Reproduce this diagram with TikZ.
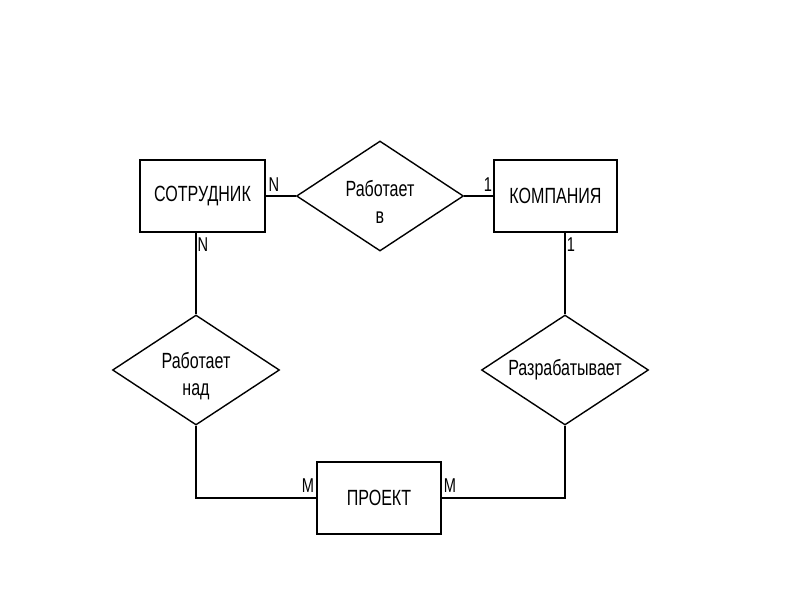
\documentclass[tikz,border=0pt]{standalone}
\usepackage{fontspec}
\setmainfont[FakeStretch=0.73]{Liberation Sans}
\usetikzlibrary{shapes.geometric}
\begin{document}
\begin{tikzpicture}[x=1pt,y=-1pt,
  ent/.style={draw,line width=1.4pt,rectangle,minimum height=72pt,inner sep=0pt,font=\fontsize{22}{27}\selectfont},
  rel/.style={draw,line width=1.4pt,diamond,minimum width=167pt,minimum height=110pt,inner sep=0pt},
  txt/.style={align=center,inner sep=0pt,font=\fontsize{22}{27}\selectfont},
  card/.style={inner sep=0pt,font=\fontsize{20}{22}\selectfont},
  conn/.style={line width=1.4pt}]
\useasboundingbox (0,0) rectangle (800,600);
\fill[white] (0,0) rectangle (800,600);
% entities
\node[ent,minimum width=125pt] (s) at (202.5,196) {СОТРУДНИК};
\node[ent,minimum width=123pt] (k) at (555.5,196) {КОМПАНИЯ};
\node[ent,minimum width=124pt] (p) at (379,498) {ПРОЕКТ};
% relationships
\node[rel] (r1) at (380,196) {};
\node[txt] (r1t) at (380,202) {Работает\\в};
\node[rel] (r2) at (196,370) {};
\node[txt] (r2t) at (196,376) {Работает\\над};
\node[rel] (r3) at (565,370) {};
\node[txt] (r3t) at (565,370) {Разрабатывает};
% connectors
\draw[conn] (s.east) -- (r1.west);
\draw[conn] (r1.east) -- (k.west);
\draw[conn] (s.south -| r2.north) -- (r2.north);
\draw[conn] (r2.south) |- (p.west);
\draw[conn] (k.south -| r3.north) -- (r3.north);
\draw[conn] (r3.south) |- (p.east);
% cardinalities
\node[card] (c1) at (274,185) {N};
\node[card] (c2) at (488,185) {1};
\node[card] (c3) at (203,245) {N};
\node[card] (c4) at (571,245) {1};
\node[card] (c5) at (308,486) {M};
\node[card] (c6) at (450,486) {M};
\end{tikzpicture}
\end{document}
